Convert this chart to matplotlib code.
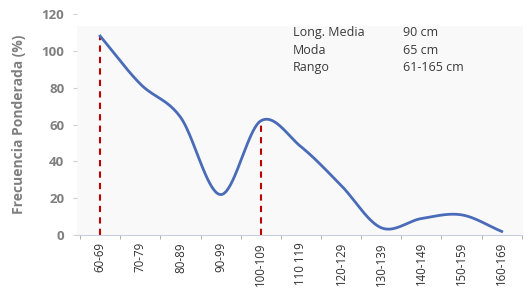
import numpy as np
import matplotlib
matplotlib.use('Agg')
import matplotlib.pyplot as plt
from matplotlib.patches import Rectangle

# data
categories = ['60-69', '70-79', '80-89', '90-99', '100-109', '110 119',
              '120-129', '130-139', '140-149', '150-159', '160-169']
frecuencia = [108, 82, 64, 22, 62, 48, 27, 4, 9, 11, 2]
marcadas = [0, 4]  # moda y segundo pico
info_labels = ['Long. Media', 'Moda', 'Rango']
info_values = ['90 cm', '65 cm', '61-165 cm']


def catmull_rom(y, n=40):
    # smoothed line like the spreadsheet one
    y = np.asarray(y, dtype=float)
    p = np.concatenate([[2 * y[0] - y[1]], y, [2 * y[-1] - y[-2]]])
    xs, ys = [], []
    for i in range(len(y) - 1):
        p0, p1, p2, p3 = p[i], p[i + 1], p[i + 2], p[i + 3]
        t = np.linspace(0, 1, n, endpoint=False)
        v = 0.5 * ((2 * p1) + (-p0 + p2) * t + (2 * p0 - 5 * p1 + 4 * p2 - p3) * t ** 2
                   + (-p0 + 3 * p1 - 3 * p2 + p3) * t ** 3)
        xs.append(i + t)
        ys.append(v)
    xs.append([len(y) - 1])
    ys.append([y[-1]])
    return np.concatenate(xs), np.concatenate(ys)


plt.rcParams['font.family'] = ['Open Sans', 'DejaVu Sans']
fig = plt.figure(figsize=(5.23, 2.91), dpi=100)
ax = fig.add_axes([0.147, 0.192, 0.853, 0.76])
ax.set_facecolor('white')
ax.add_patch(Rectangle((0, 0), 1, 113.5 / 120, transform=ax.transAxes,
                       facecolor='#f9f9f9', edgecolor='none', zorder=0))

x = np.arange(len(categories))
sx, sy = catmull_rom(frecuencia)
ax.plot(sx, sy, color='#4a6cb8', lw=2, zorder=3)
for i in marcadas:
    ax.plot([x[i], x[i]], [0, frecuencia[i]], color='#c00000', lw=1.5,
            ls=(0, (3, 2.5)), zorder=2)

ax.set_xlim(-0.58, 10.53)
ax.set_ylim(0, 120)
ax.set_yticks(range(0, 121, 20))
ax.tick_params(axis='y', colors='#d0d0d0', length=3, width=0.8, pad=6,
               labelcolor='#7f7f7f', labelsize=9.5)
for t in ax.get_yticklabels():
    t.set_fontweight('bold')
ax.set_xticks(x)
ax.set_xticklabels(categories, rotation=90, fontsize=8.3, color='#303030')
ax.set_xticks(np.arange(-0.5, len(categories), 1), minor=True)
ax.tick_params(axis='x', which='major', length=0, pad=5)
ax.tick_params(axis='x', which='minor', length=3, color='#a0a0a0')
for s in ['top', 'right', 'left']:
    ax.spines[s].set_visible(False)
ax.spines['bottom'].set_color('#c8cde0')

ax.set_ylabel('Frecuencia Ponderada (%)', color='#7f7f7f', fontsize=10,
              fontweight='bold', labelpad=4)
ax.yaxis.set_label_coords(-0.115, 0.5)

for k, (lab, val) in enumerate(zip(info_labels, info_values)):
    yy = 0.914 - k * 0.077
    ax.text(0.484, yy, lab, transform=ax.transAxes, fontsize=9,
            color='#3a3a3a', va='center')
    ax.text(0.731, yy, val, transform=ax.transAxes, fontsize=9,
            color='#3a3a3a', va='center')

fig.savefig('out.png', dpi=100)
